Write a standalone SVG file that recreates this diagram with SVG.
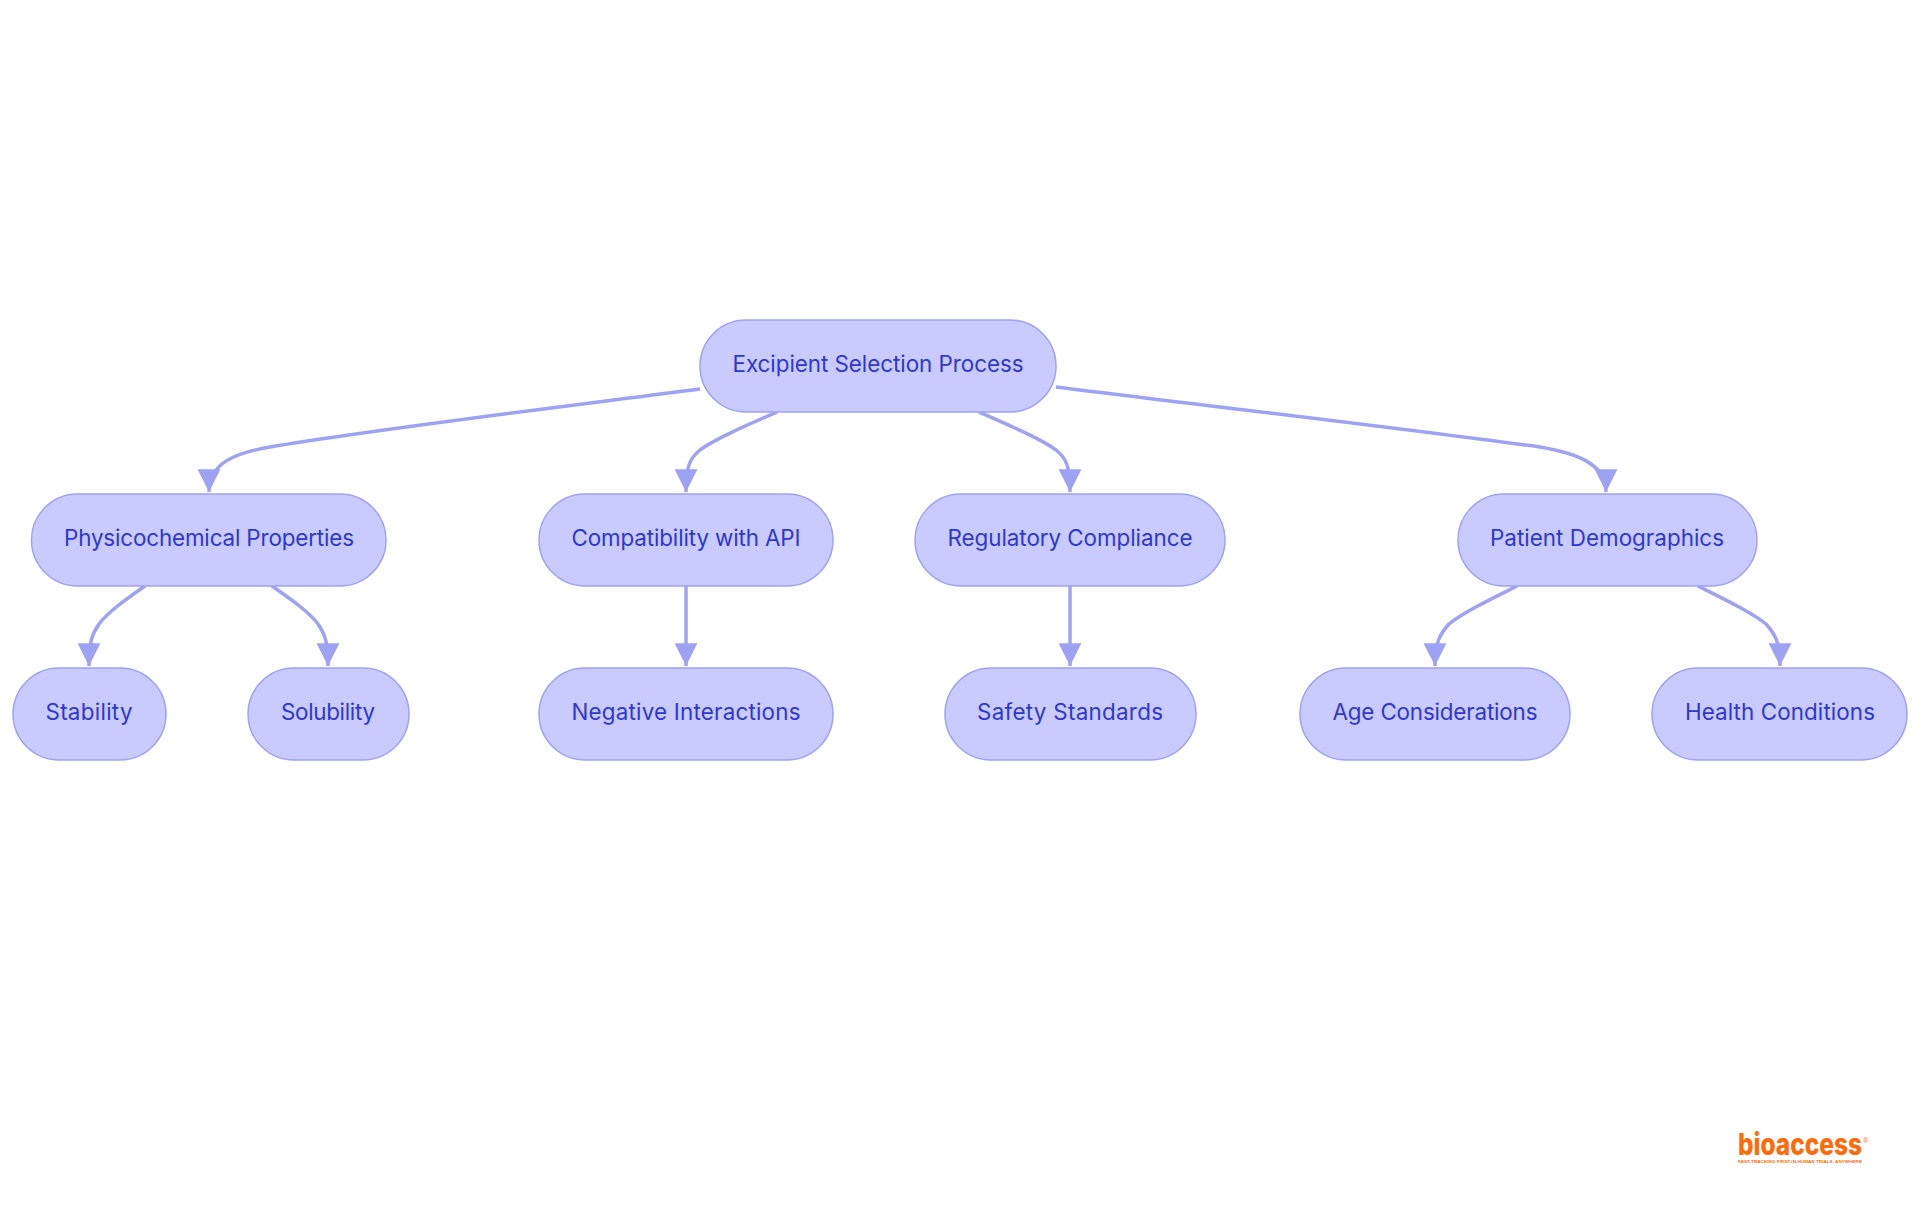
<svg xmlns="http://www.w3.org/2000/svg" width="1920" height="1215" viewBox="0 0 1920 1215">
<style>
.n rect{fill:#C9CBFF;stroke:#9DA2F2;stroke-width:1.5}
.n text{font-family:"Inter","Noto Sans","Liberation Sans",sans-serif;font-size:22.4px;fill:#2F37CF;text-anchor:middle;lengthAdjust:spacingAndGlyphs}
#edges path{fill:none;stroke:#9DA2F2;stroke-width:3.5;marker-end:url(#arrow)}
</style>
<defs>
<marker id="arrow" markerUnits="userSpaceOnUse" markerWidth="24" markerHeight="24" refX="20" refY="10.5" orient="auto" viewBox="0 0 21 21"><path d="M0,0.5L20,10.5L0,20.5z" fill="#9DA2F2"/></marker>
</defs>
<rect width="1920" height="1215" fill="#fff"/>
<g id="edges">
<path d="M700,389C560,407 370,430 270,447C235,453 209,463 209,492"/>
<path d="M777,412C745,426 715,439 700,450C690,458 686,466 686,492"/>
<path d="M979,412C1011,426 1041,439 1056,450C1066,458 1070,466 1070,492"/>
<path d="M1056,387C1200,405 1400,428 1540,447C1575,453 1606,463 1606,492"/>
<path d="M145,586C125,600 108,612 99,624C92,634 89,642 89,666"/>
<path d="M272,586C292,600 309,612 318,624C325,634 328,642 328,666"/>
<path d="M686,586V666"/>
<path d="M1070,586V666"/>
<path d="M1517,586C1489,600 1464,612 1449,624C1440,634 1435,642 1435,666"/>
<path d="M1698,586C1726,600 1751,612 1766,624C1775,634 1780,642 1780,666"/>
</g>
<g id="root" class="n"><rect x="700" y="320" width="356" height="92" rx="46"/><text x="878" y="372" textLength="291">Excipient Selection Process</text></g>
<g id="physico" class="n"><rect x="31.5" y="494" width="354.5" height="92" rx="46"/><text x="209" y="546" textLength="290">Physicochemical Properties</text></g>
<g id="compat" class="n"><rect x="539" y="494" width="294" height="92" rx="46"/><text x="686" y="546" textLength="229">Compatibility with API</text></g>
<g id="regulatory" class="n"><rect x="915" y="494" width="310" height="92" rx="46"/><text x="1070" y="546" textLength="245">Regulatory Compliance</text></g>
<g id="patient" class="n"><rect x="1458" y="494" width="299" height="92" rx="46"/><text x="1607" y="546" textLength="234">Patient Demographics</text></g>
<g id="stability" class="n"><rect x="13" y="668" width="153" height="92" rx="46"/><text x="89" y="720" textLength="87">Stability</text></g>
<g id="solubility" class="n"><rect x="248" y="668" width="161" height="92" rx="46"/><text x="328" y="720" textLength="94">Solubility</text></g>
<g id="negative" class="n"><rect x="539" y="668" width="294" height="92" rx="46"/><text x="686" y="720" textLength="229">Negative Interactions</text></g>
<g id="safety" class="n"><rect x="945" y="668" width="251" height="92" rx="46"/><text x="1070" y="720" textLength="186">Safety Standards</text></g>
<g id="age" class="n"><rect x="1300" y="668" width="270" height="92" rx="46"/><text x="1435" y="720" textLength="205">Age Considerations</text></g>
<g id="health" class="n"><rect x="1652" y="668" width="255" height="92" rx="46"/><text x="1780" y="720" textLength="190">Health Conditions</text></g>
<g id="logo">
<text x="1738" y="1155" textLength="124" lengthAdjust="spacingAndGlyphs" font-family="Inter, Liberation Sans, sans-serif" font-weight="800" font-size="30" fill="#FF6B0A">bioaccess</text>
<text x="1863" y="1143" font-family="Liberation Sans, sans-serif" font-size="7" fill="#FF6B0A">®</text>
<text x="1738" y="1163" textLength="124" lengthAdjust="spacingAndGlyphs" font-family="Liberation Sans, sans-serif" font-weight="700" font-size="4" fill="#FF6B0A">FAST-TRACKING FIRST-IN-HUMAN TRIALS, ANYWHERE</text>
</g>
</svg>
